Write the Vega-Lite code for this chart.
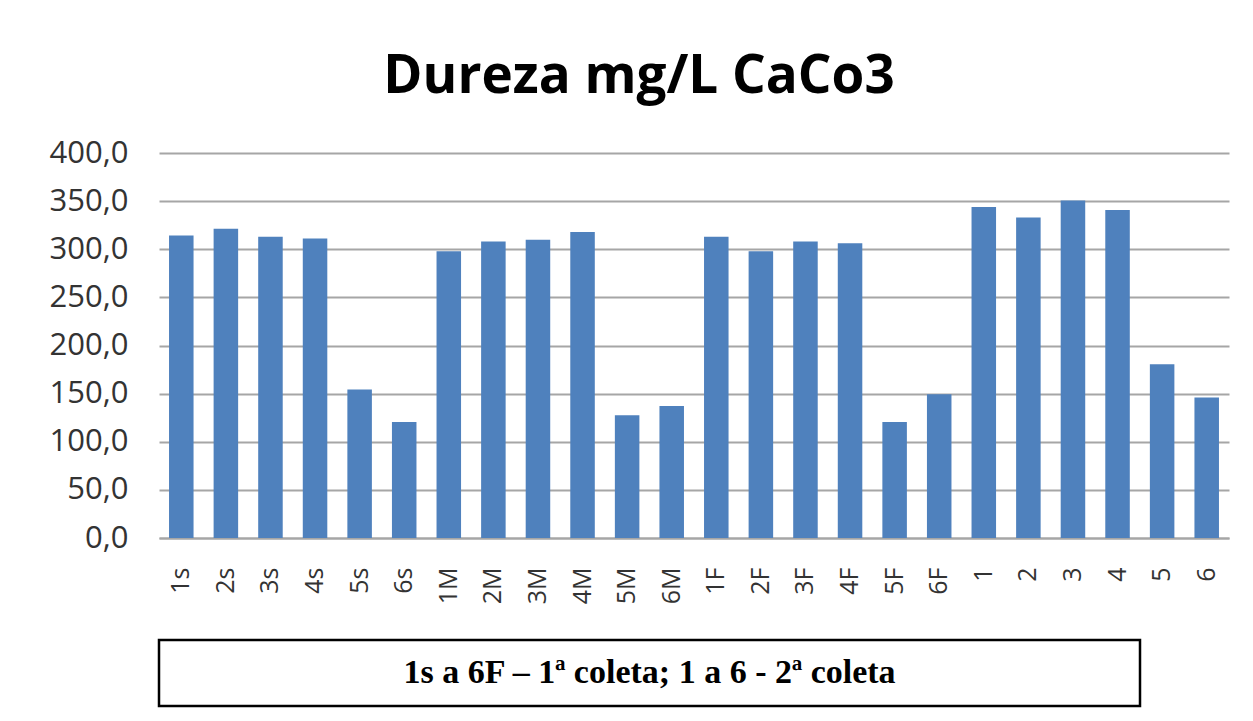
{
  "$schema": "https://vega.github.io/schema/vega-lite/v6.json",
  "background": "white",
  "padding": {"left": 49, "top": 51, "right": 25, "bottom": 10},
  "title": {
    "text": "Dureza mg/L CaCo3",
    "font": "Open Sans",
    "fontSize": 53,
    "fontWeight": "bold",
    "color": "black",
    "anchor": "middle",
    "offset": 33
  },
  "spacing": 34,
  "vconcat": [
    {
      "width": 1070,
      "height": 385,
      "data": {
        "values": [
          {"amostra": "1s", "dureza": 314.3},
          {"amostra": "2s", "dureza": 321.2},
          {"amostra": "3s", "dureza": 312.9},
          {"amostra": "4s", "dureza": 311.2},
          {"amostra": "5s", "dureza": 154.2},
          {"amostra": "6s", "dureza": 120.6},
          {"amostra": "1M", "dureza": 298.0},
          {"amostra": "2M", "dureza": 308.1},
          {"amostra": "3M", "dureza": 309.8},
          {"amostra": "4M", "dureza": 318.0},
          {"amostra": "5M", "dureza": 127.6},
          {"amostra": "6M", "dureza": 137.2},
          {"amostra": "1F", "dureza": 312.9},
          {"amostra": "2F", "dureza": 298.0},
          {"amostra": "3F", "dureza": 308.1},
          {"amostra": "4F", "dureza": 306.3},
          {"amostra": "5F", "dureza": 120.6},
          {"amostra": "6F", "dureza": 149.4},
          {"amostra": "1", "dureza": 344.0},
          {"amostra": "2", "dureza": 333.0},
          {"amostra": "3", "dureza": 350.6},
          {"amostra": "4", "dureza": 340.9},
          {"amostra": "5", "dureza": 180.5},
          {"amostra": "6", "dureza": 145.9}
        ]
      },
      "mark": {"type": "bar", "color": "#4f81bd"},
      "encoding": {
        "x": {
          "field": "amostra",
          "type": "nominal",
          "sort": null,
          "scale": {"paddingInner": 0.45, "paddingOuter": 0.225},
          "axis": {
            "title": null,
            "labelAngle": -90,
            "labelFont": "Open Sans",
            "labelFontSize": 25,
            "labelColor": "#333333",
            "labelPadding": 29,
            "ticks": false,
            "domainColor": "#a6a6a6",
            "domainWidth": 2
          }
        },
        "y": {
          "field": "dureza",
          "type": "quantitative",
          "scale": {"domain": [0, 400], "nice": false},
          "axis": {
            "title": null,
            "values": [0, 50, 100, 150, 200, 250, 300, 350, 400],
            "labelExpr": "replace(format(datum.value, '.1f'), '.', ',')",
            "labelFont": "Open Sans",
            "labelFontSize": 31,
            "labelColor": "#333333",
            "labelPadding": 31,
            "ticks": false,
            "domain": false,
            "grid": true,
            "gridColor": "#a6a6a6",
            "gridWidth": 2
          }
        }
      }
    },
    {
      "width": 981,
      "height": 66,
      "view": {"stroke": "black", "strokeWidth": 2.5},
      "data": {"values": [{"legenda": "1s a 6F – 1ª coleta; 1 a 6  - 2ª coleta"}]},
      "mark": {
        "type": "text",
        "font": "Liberation Serif",
        "fontWeight": "bold",
        "fontSize": 34,
        "color": "black"
      },
      "encoding": {"text": {"field": "legenda", "type": "nominal"}}
    }
  ],
  "config": {"view": {"stroke": null}}
}
